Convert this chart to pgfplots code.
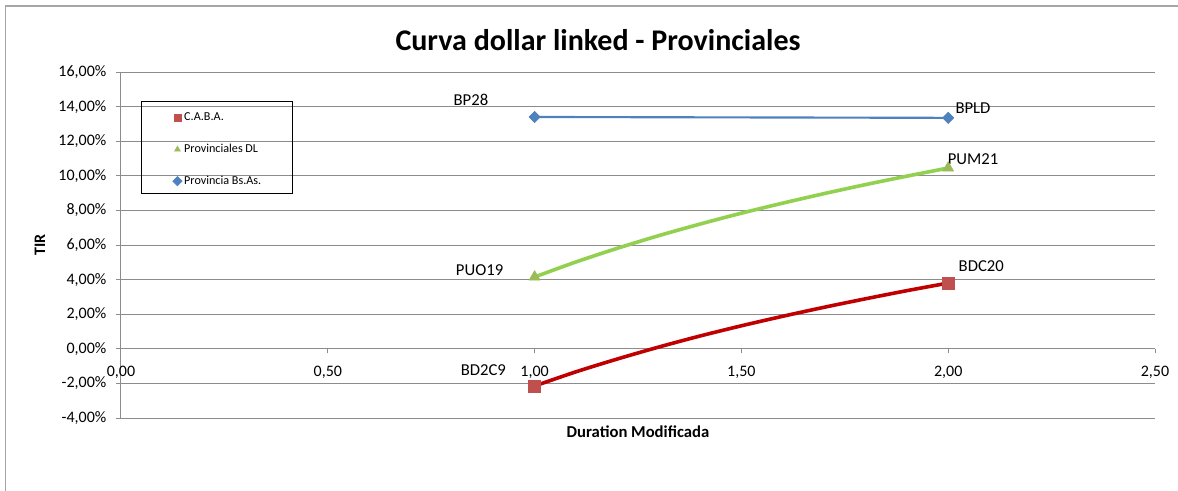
\documentclass[border=0pt]{standalone}
\usepackage{pgfplots}
\pgfplotsset{compat=1.18}
\usepackage{fontspec}
\setmainfont{Carlito}
\definecolor{gridgray}{HTML}{8C8C8C}
\definecolor{framegray}{HTML}{A6A6A6}
\definecolor{bsblue}{HTML}{4F81BD}
\definecolor{dlgreen}{HTML}{92D050}
\definecolor{dlgreenmk}{HTML}{9BBB59}
\definecolor{cabared}{HTML}{C00000}
\definecolor{cabaredmk}{HTML}{C0504D}
\begin{document}
\begin{tikzpicture}[x=1pt,y=1pt]
\path[use as bounding box] (0,0) rectangle (883.5,367.5);
\draw[framegray, line width=0.9pt] (4.2,-5) -- (4.2,363) -- (890,363);
\node[font=\bfseries\fontsize{22.5}{24}\selectfont] at (448.5,337.5) {Curva dollar linked - Provinciales};
\node[font=\bfseries\fontsize{12.5}{14}\selectfont] at (478.5,43.5) {Duration Modificada};
\node[font=\bfseries\fontsize{12}{14}\selectfont, rotate=90] at (30,183.75) {TIR};
\begin{axis}[
  at={(90.75pt,54pt)}, anchor=south west,
  scale only axis, width=775.5pt, height=259.5pt,
  xmin=0, xmax=2.5, ymin=-4, ymax=16,
  axis x line=middle, axis y line=left,
  hide obscured x ticks=false,
  axis line style={gridgray, line width=0.75pt, -},
  xtick={0,0.5,1,1.5,2,2.5},
  ytick={-4,-2,0,2,4,6,8,10,12,14,16},
  ymajorgrids, grid style={gridgray, line width=0.75pt},
  tick align=outside, major tick length=3.5pt,
  tick style={gridgray, line width=0.75pt},
  /pgf/number format/assume math mode=true,
  xticklabel={\pgfmathprintnumber[fixed,fixed zerofill,precision=2,use comma]{\tick}},
  yticklabel={\pgfmathprintnumber[fixed,fixed zerofill,precision=2,use comma]{\tick}\%},
  ticklabel style={font=\fontsize{12}{14}\selectfont, black},
  xticklabel style={yshift=-6pt},
  yticklabel style={xshift=-4pt},
  clip=false,
  legend style={at={(axis cs:0.1245,13.76)}, anchor=north west, draw=none, fill=none,
    font=\fontsize{9.1}{11}\selectfont, row sep=13pt, inner sep=0pt,
    nodes={inner sep=1.5pt}},
  legend cell align=left,
  legend image code/.code={\draw[#1, mark size=2.5pt] plot coordinates {(0pt,0pt)};},
]
% trend curves
\addplot[cabared, line width=2.7pt, smooth, no marks, forget plot] coordinates {
 (1.0,-2.15) (1.1,-1.33) (1.2,-0.59) (1.3,0.10) (1.4,0.74) (1.5,1.33)
 (1.6,1.88) (1.7,2.40) (1.8,2.89) (1.9,3.36) (2.0,3.80)};
\addplot[dlgreen, line width=2.7pt, smooth, no marks, forget plot] coordinates {
 (1.0,4.15) (1.1,5.02) (1.2,5.81) (1.3,6.54) (1.4,7.21) (1.5,7.84)
 (1.6,8.42) (1.7,8.97) (1.8,9.49) (1.9,9.98) (2.0,10.45)};
\addplot[bsblue, line width=1.6pt, no marks, forget plot] coordinates {
 (1.0,13.40) (2.0,13.35)};
% data points
\addplot[only marks, mark=square*, mark size=4.5pt, cabaredmk, mark options={fill=cabaredmk, draw=cabaredmk}] coordinates {(1.0,-2.15) (2.0,3.80)};
\addlegendentry{C.A.B.A.}
\addplot[only marks, mark=triangle*, mark size=4.8pt, dlgreenmk, mark options={fill=dlgreenmk, draw=dlgreenmk}] coordinates {(1.0,4.15) (2.0,10.45)};
\addlegendentry{Provinciales DL}
\addplot[only marks, mark=square*, mark size=3pt, bsblue, mark options={rotate=45, fill=bsblue, draw=bsblue}] coordinates {(1.0,13.40) (2.0,13.35)};
\addlegendentry{Provincia Bs.As.}
% data labels
\begin{scope}[every node/.style={font=\fontsize{12.5}{14}\selectfont}]
\node at (axis cs:0.846,14.38) {BP28};
\node at (axis cs:2.060,13.92) {BPLD};
\node at (axis cs:2.060,10.97) {PUM21};
\node at (axis cs:0.867,4.555) {PUO19};
\node at (axis cs:0.876,-1.23) {BD2C9};
\node at (axis cs:2.080,4.79) {BDC20};
\end{scope}
\draw[black, line width=0.75pt] (axis cs:0.0484,14.32) rectangle (axis cs:0.4157,8.95);
\end{axis}
\end{tikzpicture}
\end{document}
